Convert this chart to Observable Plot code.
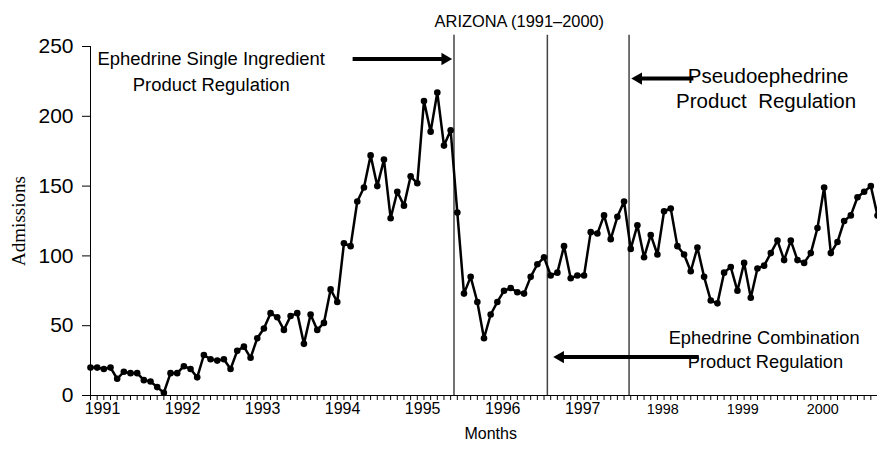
<!DOCTYPE html>
<html>
<head>
<meta charset="utf-8">
<script src="https://cdn.jsdelivr.net/npm/d3@7"></script>
<script src="https://cdn.jsdelivr.net/npm/@observablehq/plot@0.6"></script>
<style>
  html, body { margin: 0; padding: 0; background: #fff; overflow: hidden; }
</style>
</head>
<body>
<div id="chart"></div>
<script>
// Monthly admissions, Arizona, starting January 1991 (one value per month)
const admissions = [
  20, 20, 19, 20, 12, 17, 16, 16, 11, 10, 6, 2,
  16, 16, 21, 19, 13, 29, 26, 25, 26, 19, 32, 35,
  27, 41, 48, 59, 56, 47, 57, 59, 37, 58, 47, 52,
  76, 67, 109, 107, 139, 149, 172, 150, 169, 127, 146, 136,
  157, 152, 211, 189, 217, 179, 190, 131, 73, 85, 67, 41,
  58, 67, 75, 77, 74, 73, 85, 94, 99, 86, 88, 107,
  84, 86, 86, 117, 116, 129, 112, 128, 139, 105, 122, 99,
  115, 101, 132, 134, 107, 101, 89, 106, 85, 68, 66, 88,
  92, 75, 95, 70, 91, 93, 102, 111, 97, 111, 97, 95,
  102, 120, 149, 102, 110, 125, 129, 142, 146, 150, 129
];
const years = [1991, 1992, 1993, 1994, 1995, 1996, 1997, 1998, 1999, 2000];
const yTicks = [0, 50, 100, 150, 200, 250];
const title = "ARIZONA (1991–2000)";
const xTitle = "Months";
const yTitle = "Admissions";

// Regulation events (month index from Jan 1991)
const regulationMonths = [54.5, 68.5, 80.75];

// Annotation text lines: month index, admissions value
const noteText = ["Ephedrine Single Ingredient", "Product Regulation", "Pseudoephedrine", "Product  Regulation", "Ephedrine Combination", "Product Regulation"];
const noteMonth = [18.1, 18.1, 101.6, 101.3, 101.0, 101.2];
const noteValue = [241, 222.5, 228.8, 210.5, 41, 24];

// Arrows: start month, tip month, level
const arrowFrom = [40.5, 89.2, 90.0];
const arrowTo = [54.2, 81.1, 69.4];
const arrowLevel = [241, 227, 27.5];

// narrow font detection (falls back to scaled regular font)
function hasFont(name) {
  const c = document.createElement("canvas").getContext("2d");
  const s = "Months 1991 Ephedrine";
  c.font = "40px monospace"; const a = c.measureText(s).width;
  c.font = `40px '${name}', monospace`; const b = c.measureText(s).width;
  return a !== b;
}
const narrow = hasFont("Liberation Sans Narrow");
const textFont = narrow ? "'Liberation Sans Narrow', 'Arial Narrow', sans-serif" : "'Liberation Sans', Arial, sans-serif";
const k = narrow ? 1 : 0.82;
const noteSizes = [22.5, 22.5, 25, 25, 22.3, 22.3];

const series = admissions.map((v, i) => ({month: i, value: v}));
const notes = noteText.map((t, i) => ({text: t, month: noteMonth[i], value: noteValue[i], idx: i}));
const arrows = arrowFrom.map((f, i) => ({from: f, to: arrowTo[i], level: arrowLevel[i], right: arrowTo[i] > f}));
const monthTicks = admissions.map((v, i) => i);

const chart = Plot.plot({
  width: 877,
  height: 453,
  marginLeft: 90,
  marginRight: 0,
  marginTop: 46,
  marginBottom: 58,
  style: {fontFamily: textFont, fontSize: "16px", color: "#000", background: "#fff"},
  x: {domain: [0, 118]},
  y: {domain: [0, 250]},
  marks: [
    Plot.axisY({ticks: yTicks, tickSize: 8, tickPadding: 9, label: null, fontSize: 21, fontFamily: "'Liberation Sans', Arial, sans-serif"}),
    Plot.axisX({ticks: monthTicks, tickSize: 5, tickFormat: () => "", label: null}),
    Plot.ruleX([0], {y1: 0, y2: 250, stroke: "#000", strokeWidth: 1}),
    Plot.ruleY([0], {stroke: "#000", strokeWidth: 1}),
    Plot.text(years, {x: (d, i) => i * 12 + 1.8, frameAnchor: "bottom", dy: 18, text: d => String(d), fontSize: d => (d >= 1998 ? 17.5 : 19.5) * k}),
    Plot.ruleX(regulationMonths, {y1: 0, y2: 258, stroke: "#444", strokeWidth: 1.5}),
    Plot.line(series, {x: "month", y: "value", stroke: "#000", strokeWidth: 2.5}),
    Plot.dot(series, {x: "month", y: "value", r: 3.3, fill: "#000"}),
    // arrow shafts
    Plot.link(arrows.filter(d => d.right), {x1: "from", x2: "to", y1: "level", y2: "level", stroke: "#000", strokeWidth: 4, dx: -8}),
    Plot.link(arrows.filter(d => !d.right), {x1: "from", x2: "to", y1: "level", y2: "level", stroke: "#000", strokeWidth: 4, dx: 8}),
    // arrow heads
    Plot.dot(arrows.filter(d => d.right), {x: "to", y: "level", symbol: "triangle", r: 4.6, fill: "#000", rotate: 90, dx: -7}),
    Plot.dot(arrows.filter(d => !d.right), {x: "to", y: "level", symbol: "triangle", r: 4.6, fill: "#000", rotate: -90, dx: 7}),
    Plot.text(notes, {x: "month", y: "value", text: "text", fontSize: d => noteSizes[d.idx] * k, textAnchor: "middle"}),
    Plot.text([title], {x: 64.3, frameAnchor: "top", dy: -31, fontSize: 20 * k}),
    Plot.text([xTitle], {x: 60, frameAnchor: "bottom", dy: 43, fontSize: 19.5 * k}),
    Plot.text([yTitle], {x: 0, y: 125, dx: -72, rotate: -90, fontSize: 19, fontFamily: "'Liberation Serif', 'Times New Roman', serif"})
  ]
});
document.getElementById("chart").appendChild(chart);
</script>
</body>
</html>
